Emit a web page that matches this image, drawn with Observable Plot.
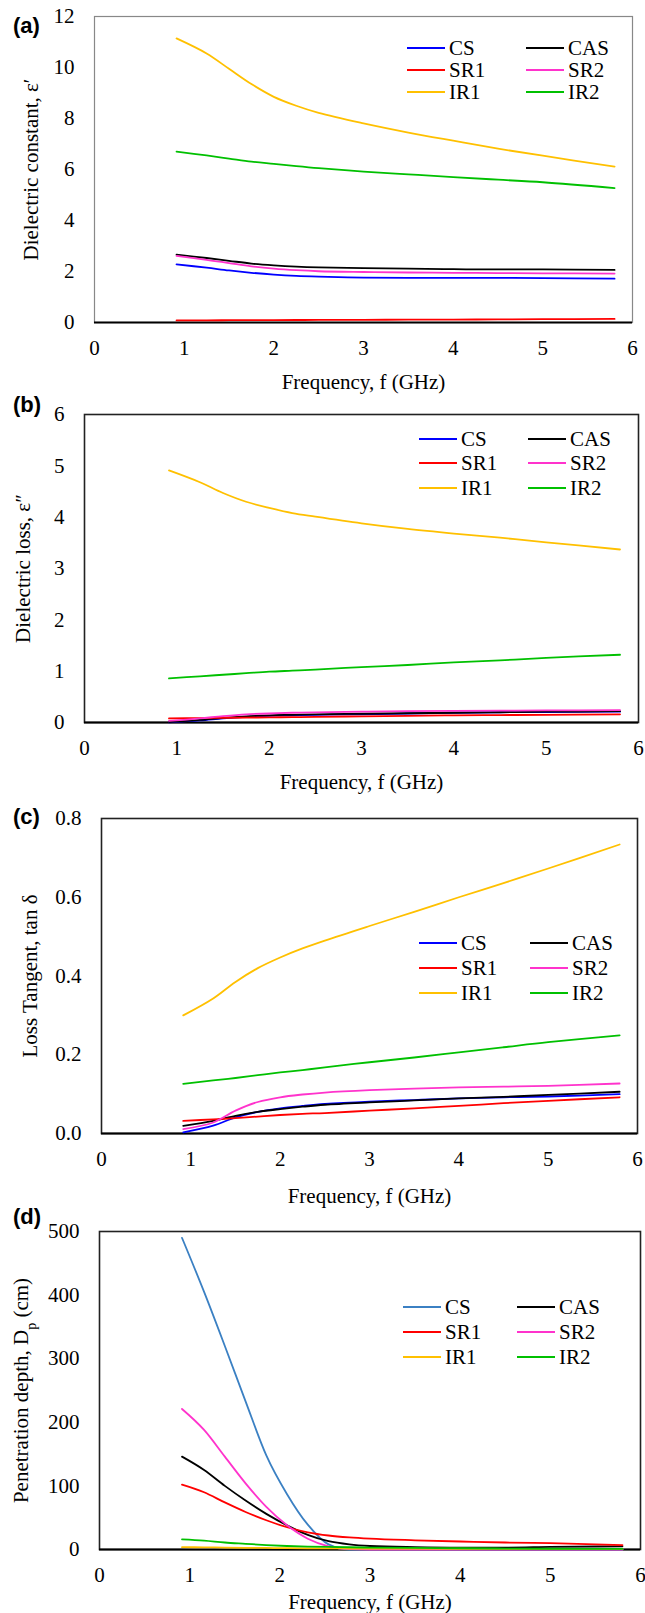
<!DOCTYPE html>
<html>
<head>
<meta charset="utf-8">
<script src="https://cdn.jsdelivr.net/npm/d3@7"></script>
<script src="https://cdn.jsdelivr.net/npm/@observablehq/plot@0.6"></script>
<style>
  body { margin: 0; background: #fff; }
  #fig { width: 645px; position: relative; }
  #fig svg { display: block; overflow: visible; }
  #fig svg text, #fig svg tspan { font-family: "Liberation Serif", "Times New Roman", serif; }
  #fig svg text.tag { font-family: "Liberation Sans", Arial, sans-serif; font-weight: bold; }
</style>
</head>
<body>
<div id="fig"></div>
<script>
// ---------- data ----------
const seriesNames = ["CS", "CAS", "SR1", "SR2", "IR1", "IR2"];
const colorsABC = ["#0000FF", "#000000", "#FF0000", "#FF33CC", "#FFC000", "#00C000"];
const colorsD   = ["#3B80C3", "#000000", "#FF0000", "#FF33CC", "#FFC000", "#00C000"];

const freq = [0.915, 1.25, 1.5, 1.75, 2.0, 2.25, 2.5, 3.0, 3.5, 4.0, 4.5, 5.0, 5.8];

// (a) dielectric constant
const aCS  = [2.28, 2.15, 2.04, 1.95, 1.88, 1.83, 1.80, 1.76, 1.75, 1.75, 1.75, 1.74, 1.72];
const aCAS = [2.66, 2.53, 2.42, 2.31, 2.24, 2.19, 2.16, 2.13, 2.11, 2.09, 2.08, 2.08, 2.06];
const aSR1 = [0.08, 0.085, 0.09, 0.092, 0.095, 0.098, 0.10, 0.105, 0.11, 0.115, 0.12, 0.13, 0.14];
const aSR2 = [2.61, 2.46, 2.33, 2.20, 2.11, 2.05, 2.01, 1.98, 1.96, 1.95, 1.94, 1.93, 1.92];
const aIR1 = [11.14, 10.55, 9.95, 9.35, 8.85, 8.50, 8.22, 7.81, 7.45, 7.13, 6.82, 6.54, 6.11];
const aIR2 = [6.70, 6.55, 6.43, 6.31, 6.22, 6.13, 6.05, 5.92, 5.81, 5.70, 5.60, 5.50, 5.27];

// (b) dielectric loss
const bCS  = [0.005, 0.04, 0.08, 0.11, 0.13, 0.14, 0.15, 0.16, 0.175, 0.19, 0.20, 0.205, 0.21];
const bCAS = [0.01, 0.05, 0.09, 0.12, 0.14, 0.15, 0.16, 0.17, 0.18, 0.19, 0.20, 0.21, 0.22];
const bSR1 = [0.08, 0.085, 0.09, 0.095, 0.10, 0.105, 0.11, 0.12, 0.13, 0.14, 0.145, 0.15, 0.16];
const bSR2 = [0.03, 0.08, 0.125, 0.16, 0.175, 0.19, 0.198, 0.21, 0.22, 0.225, 0.23, 0.235, 0.24];
const bIR1 = [4.91, 4.68, 4.47, 4.30, 4.18, 4.08, 4.01, 3.88, 3.77, 3.68, 3.60, 3.51, 3.37];
const bIR2 = [0.86, 0.90, 0.93, 0.96, 0.99, 1.01, 1.03, 1.08, 1.12, 1.17, 1.21, 1.26, 1.32];

// (c) loss tangent
const cCS  = [0.003, 0.02, 0.041, 0.055, 0.064, 0.070, 0.075, 0.081, 0.085, 0.089, 0.092, 0.094, 0.10];
const cCAS = [0.0195, 0.032, 0.045, 0.055, 0.062, 0.068, 0.073, 0.079, 0.084, 0.089, 0.093, 0.098, 0.106];
const cSR1 = [0.032, 0.036, 0.039, 0.043, 0.047, 0.050, 0.052, 0.058, 0.064, 0.070, 0.077, 0.083, 0.092];
const cSR2 = [0.011, 0.028, 0.058, 0.080, 0.092, 0.099, 0.104, 0.110, 0.114, 0.117, 0.119, 0.121, 0.127];
const cIR1 = [0.30, 0.343, 0.385, 0.42, 0.447, 0.470, 0.490, 0.527, 0.563, 0.60, 0.636, 0.673, 0.734];
const cIR2 = [0.126, 0.135, 0.141, 0.148, 0.155, 0.161, 0.168, 0.181, 0.193, 0.206, 0.219, 0.232, 0.249];

// (d) penetration depth
const freqD = [0.915, 1.16, 1.39, 1.62, 1.85, 2.08, 2.31, 2.54, 2.77, 3.0, 3.5, 4.0, 4.5, 5.0, 5.8];
const dCS  = [490, 405, 320, 233, 148, 87, 39, 8, 0, 0, 0, 0, 0, 0, 0];
const dCAS = [146, 125, 100, 77, 56, 38, 23, 13, 8, 5.5, 3.7, 3, 3, 4, 5];
const dSR1 = [102, 90, 74, 59, 46, 35, 27, 22, 19, 17, 14.5, 12.6, 11, 10, 7];
const dSR2 = [221, 188, 146, 104, 67, 38, 17, 5, 0.5, 0, 0, 0, 0, 0, 0];
const dIR1 = [3.7, 3.4, 3, 2.7, 2.4, 2.1, 1.9, 1.7, 1.6, 1.5, 1.3, 1.2, 1.1, 1.0, 1.0];
const dIR2 = [16, 14, 11, 9, 7, 5.5, 4.5, 4, 3.5, 3, 2.5, 2, 1.5, 1.2, 1];

const xTicks = [0, 1, 2, 3, 4, 5, 6];
const yTicksA = [0, 2, 4, 6, 8, 10, 12];
const yTicksB = [0, 1, 2, 3, 4, 5, 6];
const yTicksC = [0, 0.2, 0.4, 0.6, 0.8];
const yTicksD = [0, 100, 200, 300, 400, 500];

function rows(xs, arrs) {
  const out = [];
  seriesNames.forEach((s, i) => xs.forEach((x, j) => out.push({f: x, v: arrs[i][j], s})));
  return out;
}

// ---------- layout ----------
const panels = [
  {tag: "(a)", data: rows(freq, [aCS, aCAS, aSR1, aSR2, aIR1, aIR2]), colors: colorsABC, curve: "catmull-rom",
   yDomain: [0, 12], yTicks: yTicksA, yFmt: d3.format("d"), yLabel: "Dielectric constant, ε′",
   height: 392, mt: 16, mb: 70, ml: 94, mr: 13, yLabOff: 71, xLabOff: 66, frame: "#888", frameW: 1.2,
   tagY: 25, leg: {c1: 407, c2: 526, len: 38, rows: [48, 70, 92]}},
  {tag: "(b)", data: rows(freq, [bCS, bCAS, bSR1, bSR2, bIR1, bIR2]), colors: colorsABC, curve: "catmull-rom",
   yDomain: [0, 6], yTicks: yTicksB, yFmt: d3.format("d"), yLabel: "Dielectric loss, ε″",
   height: 406, mt: 22, mb: 76, ml: 84, mr: 7, yLabOff: 69, xLabOff: 66, frame: "#222", frameW: 1.6,
   tagY: 12, leg: {c1: 419, c2: 528, len: 38, rows: [47, 71, 96]}},
  {tag: "(c)", data: rows(freq, [cCS, cCAS, cSR1, cSR2, cIR1, cIR2]), colors: colorsABC, curve: "catmull-rom",
   yDomain: [0, 0.8], yTicks: yTicksC, yFmt: d3.format(".1f"), yLabel: "Loss Tangent, tan δ",
   height: 405, mt: 20, mb: 70, ml: 101, mr: 8, yLabOff: 79, xLabOff: 69, frame: "#222", frameW: 1.6,
   tagY: 18, leg: {c1: 419, c2: 530, len: 38, rows: [145, 170, 195]}},
  {tag: "(d)", data: rows(freqD, [dCS, dCAS, dSR1, dSR2, dIR1, dIR2]), colors: colorsD, curve: "monotone-x",
   yDomain: [0, 500], yTicks: yTicksD, yFmt: d3.format("d"), yLabel: "Penetration depth, Dp (cm)",
   height: 410, mt: 28, mb: 64, ml: 99, mr: 5, yLabOff: 86, xLabOff: 59, frame: "#222", frameW: 1.6,
   tagY: 13, leg: {c1: 403, c2: 517, len: 38, rows: [104, 129, 154]}}
];

const fig = document.getElementById("fig");
const serif = "'Liberation Serif', 'Times New Roman', serif";

panels.forEach((p, idx) => {
  const chart = Plot.plot({
    width: 645,
    height: p.height,
    marginTop: p.mt, marginBottom: p.mb, marginLeft: p.ml, marginRight: p.mr,
    style: {fontFamily: serif, fontSize: "20px", color: "#000", background: "#fff", overflow: "visible"},
    x: {domain: [0, 6]},
    y: {domain: p.yDomain},
    color: {domain: seriesNames, range: p.colors},
    marks: [
      Plot.frame({stroke: p.frame, strokeWidth: p.frameW}),
      Plot.ruleY([0], {stroke: "#000", strokeWidth: 1.8}),
      Plot.line(p.data, {x: "f", y: "v", z: "s", stroke: "s", strokeWidth: 1.8, curve: p.curve}),
      Plot.axisX({ticks: xTicks, tickSize: 0, tickPadding: 18, tickFormat: d3.format("d"),
        label: "Frequency, f (GHz)", labelAnchor: "center", labelOffset: p.xLabOff, labelArrow: false, fontSize: 21}),
      Plot.axisY({ticks: p.yTicks, tickSize: 0, tickPadding: 20, tickFormat: p.yFmt,
        label: p.yLabel, labelAnchor: "center", labelOffset: p.yLabOff, labelArrow: false, fontSize: 21})
    ]
  });

  const svg = d3.select(chart);
  // panel tag
  svg.append("text").attr("class", "tag").attr("x", 13).attr("y", p.tagY).attr("dy", "0.35em")
    .attr("text-anchor", "start").attr("font-size", 22).attr("fill", "#000").text(p.tag);

  // subscript in panel (d) y label
  if (idx === 3) {
    const t = svg.select('g[aria-label="y-axis label"] text');
    t.text(null);
    t.append("tspan").text("Penetration depth, D");
    t.append("tspan").attr("baseline-shift", "sub").attr("font-size", 14).text("p");
    t.append("tspan").text(" (cm)");
  }

  // legend
  const leg = svg.append("g").attr("font-size", 21).attr("text-anchor", "start");
  const order = [["CS", "SR1", "IR1"], ["CAS", "SR2", "IR2"]];
  order.forEach((col, ci) => {
    const x0 = ci === 0 ? p.leg.c1 : p.leg.c2;
    col.forEach((name, ri) => {
      const y = p.leg.rows[ri];
      const c = p.colors[seriesNames.indexOf(name)];
      leg.append("line").attr("x1", x0).attr("x2", x0 + p.leg.len).attr("y1", y).attr("y2", y)
        .attr("stroke", c).attr("stroke-width", 2);
      leg.append("text").attr("x", x0 + p.leg.len + 4).attr("y", y).attr("dy", "0.35em")
        .attr("text-anchor", "start").attr("fill", "#000").text(name);
    });
  });

  fig.appendChild(chart);
});
</script>
</body>
</html>
